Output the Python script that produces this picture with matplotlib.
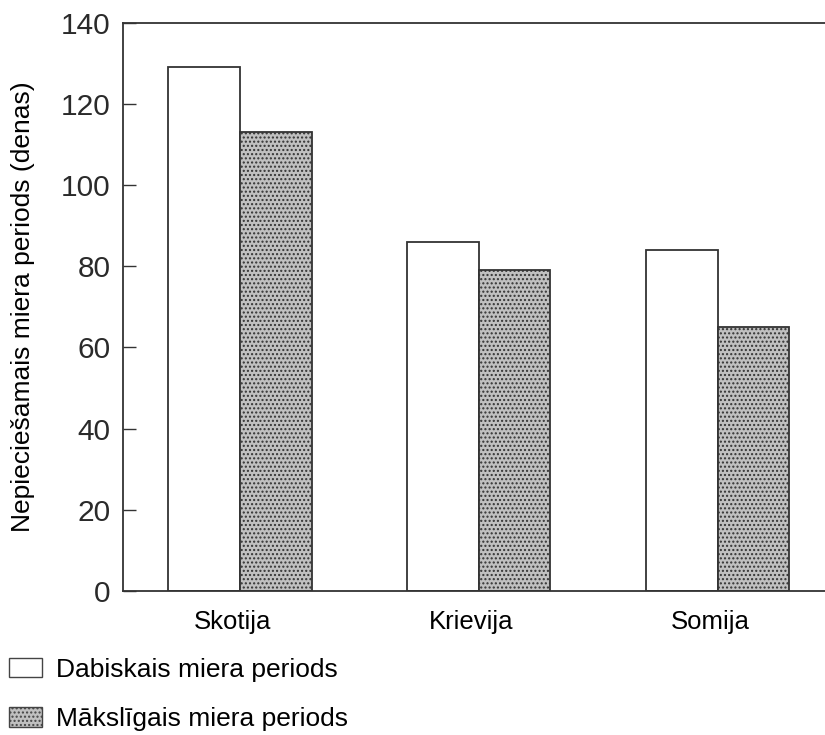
import numpy as np
import matplotlib.pyplot as plt
from matplotlib.patches import Patch

plt.rcParams["font.family"] = ["Liberation Sans", "DejaVu Sans"]
plt.rcParams["hatch.color"] = "#8a8a8a"

# data
countries = ["Skotija", "Krievija", "Somija"]
natural_days = [129, 86, 84]
artificial_days = [113, 79, 65]
y_ticks = [0, 20, 40, 60, 80, 100, 120, 140]

natural_label = "Dabiskais miera periods"
artificial_label = "Mākslīgais miera periods"
y_label = "Nepieciešamais miera periods (denas)"

fig = plt.figure(figsize=(8.25, 7.35), dpi=100)
ax = fig.add_axes([0.149, 0.196, 0.851, 0.773])

x = np.arange(len(countries))
width = 0.3
ax.bar(x - width / 2, natural_days, width, color="white",
       edgecolor="#333333", linewidth=1.3)
ax.bar(x + width / 2, artificial_days, width, color="#c0c0c0",
       edgecolor="#333333", linewidth=1.3, hatch="....")

ax.set_xlim(-0.49, 2.45)
ax.set_ylim(0, 140)
ax.set_yticks(y_ticks)
ax.tick_params(axis="y", direction="in", length=9, width=1,
               labelsize=21.5, pad=9, colors="#333333", labelcolor="#2a2a2a")
ax.set_xticks(x - 0.03)
ax.set_xticklabels(countries, fontsize=18.5)
ax.tick_params(axis="x", length=0, pad=14)
ax.set_ylabel(y_label, fontsize=19)
ax.yaxis.set_label_coords(-0.125, 0.5)

ax.spines["right"].set_visible(False)
for side in ["left", "top", "bottom"]:
    ax.spines[side].set_color("#333333")
    ax.spines[side].set_linewidth(1.3)

handles = [
    Patch(facecolor="white", edgecolor="#444444", linewidth=1.0),
    Patch(facecolor="#c0c0c0", edgecolor="#444444", linewidth=1.0, hatch="...."),
]
fig.legend(handles, [natural_label, artificial_label], loc="upper left",
           bbox_to_anchor=(0.0, 0.118), frameon=False, fontsize=19,
           handlelength=1.25, handleheight=0.76, handletextpad=0.53,
           labelspacing=0.98, borderaxespad=0.0, borderpad=0.35)

fig.savefig("out.png", dpi=100)
